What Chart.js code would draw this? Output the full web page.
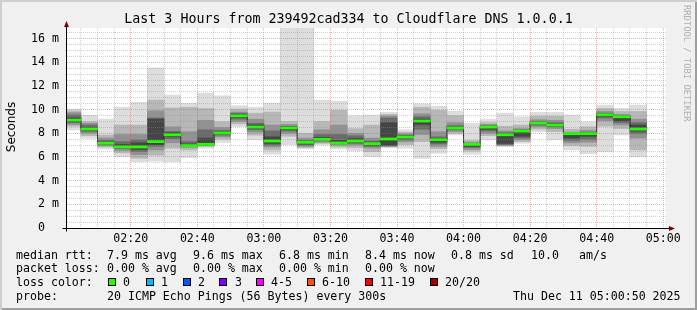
<!DOCTYPE html>
<html>
<head>
<meta charset="utf-8">
<script src="https://cdn.jsdelivr.net/npm/chart.js@4.4.1/dist/chart.umd.min.js"></script>
<style>
  html, body { margin: 0; padding: 0; background: #f0f0f0; }
  #frame {
    position: relative; width: 697px; height: 310px; background: #f0f0f0;
    box-shadow: inset 2px 2px 0 #cfcfcf, inset -2px -2px 0 #9e9e9e;
    font-family: "DejaVu Sans Mono", monospace; color: #000; overflow: hidden;
  }
  #plot { position: absolute; left: 0; top: 0; }
  .t { position: absolute; white-space: pre; font-size: 11.6px; line-height: 12px; }
  .sw { position: absolute; width: 6px; height: 6px; border: 1px solid #000; }
  #title { position: absolute; left: 0; top: 11px; width: 697px; text-align: center; font-size: 13.3px; line-height: 16px; white-space: pre; }
  #ytitle { position: absolute; left: -20px; top: 120px; width: 62px; text-align: center; font-family: "DejaVu Sans", sans-serif; font-size: 12px; line-height: 14px; transform: rotate(-90deg); }
  #rrd { position: absolute; left: 682px; top: 5px; writing-mode: vertical-rl; font-size: 8.8px; line-height: 9px; color: #b0b0b0; }
</style>
</head>
<body>
<div id="frame">
  <canvas id="plot" width="697" height="250"></canvas>
  <div id="title">Last 3 Hours from 239492cad334 to Cloudflare DNS 1.0.0.1</div>
  <div id="ytitle">Seconds</div>
  <div id="rrd">RRDTOOL / TOBI OETIKER</div>
  <div id="legend"></div>
</div>
<script>
// 5-minute slots (start time of each slot)
const slots = ["02:00","02:05","02:10","02:15","02:20","02:25","02:30","02:35","02:40","02:45",
               "02:50","02:55","03:00","03:05","03:10","03:15","03:20","03:25","03:30","03:35",
               "03:40","03:45","03:50","03:55","04:00","04:05","04:10","04:15","04:20","04:25",
               "04:30","04:35","04:40","04:45","04:50"];

// median rtt in ms
const median = [9.12,8.36,7.16,6.85,6.85,7.30,7.88,6.96,7.07,8.03,
                9.48,8.53,7.35,8.45,7.24,7.49,7.18,7.35,7.13,7.52,
                7.69,9.04,7.46,8.45,7.07,8.53,7.88,8.19,8.87,8.70,
                7.97,7.97,9.57,9.40,8.36];

// smoke bands, outermost (ping 1..20) to innermost
const smoke1Lo = [8.28,7.58,6.68,6.03,5.61,5.65,5.61,5.95,6.74,7.24,8.56,7.44,6.23,7.01,6.68,7.01,6.68,6.51,6.03,6.79,6.74,5.89,6.32,7.86,6.23,7.44,6.87,7.16,8.14,7.44,6.60,6.28,6.45,7.86,6.00];
const smoke1Hi = [10.05,9.54,9.20,10.21,10.61,13.53,11.23,10.53,11.40,11.17,10.33,10.21,10.55,17.5,17.5,10.80,10.72,9.48,9.54,9.77,8.30,10.50,10.30,9.88,8.84,9.18,9.71,9.40,9.77,9.77,9.54,8.98,10.38,10.10,10.38];
const smoke2Lo = [8.60,7.80,6.85,6.35,5.90,6.15,6.74,6.60,6.90,7.50,8.80,7.85,6.60,7.75,6.80,7.15,6.85,6.80,6.45,6.85,7.05,7.30,6.70,8.00,6.50,7.80,6.95,7.30,8.35,8.14,6.95,6.90,8.60,8.40,6.60];
const smoke2Hi = [9.90,9.00,7.85,8.70,8.70,10.80,10.15,10.20,10.10,8.98,10.05,9.70,9.80,9.00,8.00,9.00,9.95,8.40,8.70,9.60,8.10,10.20,9.95,9.50,7.40,8.90,8.60,8.70,9.45,9.45,8.35,8.55,10.10,9.85,9.85];
const smoke3Lo = [8.75,8.00,6.95,6.55,6.20,6.60,7.20,6.80,6.95,7.70,9.00,8.10,6.85,8.00,6.90,7.25,7.00,7.00,6.75,6.90,7.30,7.90,6.90,8.15,6.65,8.00,7.00,7.45,8.55,8.40,7.20,7.25,9.05,8.70,7.60];
const smoke3Hi = [9.75,8.85,7.60,7.90,7.90,9.90,8.55,8.14,9.10,8.50,9.80,9.20,8.70,8.75,7.60,8.30,8.70,8.00,7.60,9.45,7.95,9.65,8.14,8.90,7.25,8.75,8.20,8.40,9.15,9.10,8.10,8.25,9.85,9.60,9.20];
const smoke4Lo = [8.90,8.15,7.02,6.70,6.45,6.90,7.55,6.90,7.00,7.85,9.20,8.30,7.00,8.20,7.00,7.35,7.10,7.15,6.90,6.95,7.45,8.35,7.10,8.30,6.80,8.20,7.05,7.60,8.70,8.55,7.40,7.50,9.30,8.90,8.00];
const smoke4Hi = [9.55,8.70,7.40,7.30,7.45,9.30,8.15,7.30,8.30,8.25,9.70,8.85,8.20,8.60,7.40,7.90,7.90,7.80,7.35,9.30,7.85,9.40,7.70,8.65,7.15,8.65,8.05,8.30,9.00,8.90,8.02,8.10,9.70,9.50,8.90];
const smoke5Lo = [9.00,8.25,7.08,6.78,6.65,7.05,7.75,6.93,7.03,7.95,9.35,8.42,7.15,8.30,7.10,7.42,7.13,7.25,7.00,7.00,7.60,8.75,7.25,8.38,6.90,8.35,7.15,7.75,8.80,8.62,7.60,7.75,9.45,9.05,8.20];
const smoke5Hi = [9.30,8.50,7.25,7.05,7.20,9.20,8.05,7.10,7.60,8.12,9.60,8.70,7.70,8.55,7.30,7.65,7.40,7.55,7.25,8.90,7.80,9.20,7.55,8.55,7.10,8.60,7.95,8.25,8.95,8.80,8.00,8.02,9.65,9.45,8.70];

const xTickLabels = ["02:20","02:40","03:00","03:20","03:40","04:00","04:20","04:40","05:00"];
const yTickValues = [0,2,4,6,8,10,12,14,16];
const yTickLabels = ["0  ","2 m","4 m","6 m","8 m","10 m","12 m","14 m","16 m"];

const lossLabels = ["0","1","2","3","4-5","6-10","11-19","20/20"];
const lossColors = ["#26ff00","#00b8ff","#0059ff","#7e00ff","#ff00ff","#ff5500","#ff0000","#a10000"];

const toMin = s => { const p = s.split(":"); return +p[0] * 60 + +p[1]; };
const centers = slots.map(s => toMin(s) + 2.5);
const xMajor = xTickLabels.map(toMin);

const MONO = "DejaVu Sans Mono";
const gridMinor = "rgba(143,143,143,0.42)";
const gridMajor = "rgba(222,80,80,0.45)";

function band(lo, hi, color, order) {
    return {
        type: "bar",
        data: centers.map((x, i) => ({ x: x, y: [lo[i], hi[i]] })),
        backgroundColor: color,
        borderWidth: 0,
        grouped: false,
        barPercentage: 1,
        categoryPercentage: 1,
        order: order,
    };
}

const canvasBg = {
    id: "canvasBg",
    beforeDraw(chart) {
        const a = chart.chartArea, ctx = chart.ctx;
        ctx.save();
        ctx.fillStyle = "#ffffff";
        ctx.fillRect(a.left, a.top, a.right - a.left, a.bottom - a.top);
        ctx.restore();
    },
};

const axesArrows = {
    id: "axesArrows",
    afterDraw(chart) {
        const a = chart.chartArea, ctx = chart.ctx;
        const x0 = Math.round(a.left) - 0.5, y0 = Math.round(a.bottom) + 0.5;
        ctx.save();
        ctx.strokeStyle = "#000";
        ctx.lineWidth = 1;
        ctx.beginPath();
        ctx.moveTo(x0, a.top - 3);
        ctx.lineTo(x0, y0 + 3);
        ctx.moveTo(x0 - 4, y0);
        ctx.lineTo(a.right + 3, y0);
        ctx.stroke();
        ctx.fillStyle = "#7f0000";
        ctx.beginPath();
        ctx.moveTo(x0 - 2.5, a.top - 1);
        ctx.lineTo(x0 + 2.5, a.top - 1);
        ctx.lineTo(x0, a.top - 7);
        ctx.closePath();
        ctx.fill();
        ctx.beginPath();
        ctx.moveTo(a.right + 3, y0 - 2.5);
        ctx.lineTo(a.right + 3, y0 + 2.5);
        ctx.lineTo(a.right + 9, y0);
        ctx.closePath();
        ctx.fill();
        ctx.restore();
    },
};

new Chart(document.getElementById("plot"), {
    type: "bar",
    data: {
        datasets: [
            band(median.map(v => v - 0.09), median.map(v => v + 0.09), "#26ff00", 0),
            {
                type: "line",
                data: centers.map((x, i) => ({ x: x, y: median[i] })),
                stepped: "middle",
                borderColor: "#202020",
                borderWidth: 1,
                pointRadius: 0,
                fill: false,
                order: 1,
            },
            band(smoke5Lo, smoke5Hi, "#454545", 2),
            band(smoke4Lo, smoke4Hi, "#6b6b6b", 3),
            band(smoke3Lo, smoke3Hi, "#919191", 4),
            band(smoke2Lo, smoke2Hi, "#b7b7b7", 5),
            band(smoke1Lo, smoke1Hi, "#dddddd", 6),
        ],
    },
    options: {
        responsive: false,
        animation: false,
        layout: { padding: { left: 0, top: 28, right: 31, bottom: 0 } },
        plugins: { legend: { display: false }, tooltip: { enabled: false }, title: { display: false } },
        scales: {
            x: {
                type: "linear",
                min: 120 + 50 / 60,
                max: 300 + 50 / 60,
                offset: false,
                afterBuildTicks: (s) => {
                    const t = [];
                    for (let v = 125; v <= 300; v += 5) t.push({ value: v });
                    s.ticks = t;
                },
                afterFit: (s) => { s.height = 22; },
                grid: {
                    offset: false,
                    z: 1,
                    drawTicks: false,
                    color: (c) => (c.tick && xMajor.includes(c.tick.value) ? gridMajor : gridMinor),
                },
                border: { display: false, dash: [1, 1] },
                ticks: {
                    autoSkip: false,
                    maxRotation: 0,
                    padding: 4,
                    color: "#000",
                    font: { family: MONO, size: 11.6 },
                    callback: (v) => {
                        const i = xMajor.indexOf(v);
                        return i >= 0 ? xTickLabels[i] : "";
                    },
                },
            },
            y: {
                min: 0,
                max: 16.9,
                afterBuildTicks: (s) => {
                    const t = [];
                    for (let v = 0; v <= 16.5; v += 0.5) t.push({ value: v });
                    s.ticks = t;
                },
                afterFit: (s) => { s.width = 67; },
                grid: {
                    z: 1,
                    drawTicks: false,
                    color: (c) => (c.tick && yTickValues.includes(c.tick.value) ? gridMajor : gridMinor),
                },
                border: { display: false, dash: [1, 1] },
                ticks: {
                    autoSkip: false,
                    padding: 8,
                    color: "#000",
                    font: { family: MONO, size: 11.6 },
                    callback: (v) => {
                        const i = yTickValues.indexOf(v);
                        return i >= 0 ? yTickLabels[i] : "";
                    },
                },
            },
        },
    },
    plugins: [canvasBg, axesArrows],
});

// legend / comment lines under the graph
const legendLines = [
    [249, [[16, "median rtt:"], [107, "7.9 ms avg"], [193, "9.6 ms max"], [279, "6.8 ms min"],
           [365, "8.4 ms now"], [451, "0.8 ms sd"], [531, "10.0"], [579, "am/s"]]],
    [262, [[16, "packet loss:"], [107, "0.00 % avg"], [193, "0.00 % max"], [279, "0.00 % min"], [365, "0.00 % now"]]],
    [276, [[16, "loss color:"]]],
    [290, [[16, "probe:"], [107, "20 ICMP Echo Pings (56 Bytes) every 300s"], [513, "Thu Dec 11 05:00:50 2025"]]],
];
const swatchX = [108, 146, 183, 219, 256, 307, 365, 430];
const swatchTextX = [123, 161, 198, 235, 271, 322, 380, 445];

const legend = document.getElementById("legend");
legendLines.forEach(([top, parts]) => {
    parts.forEach(([x, text]) => {
        const d = document.createElement("div");
        d.className = "t";
        d.style.left = x + "px";
        d.style.top = top + "px";
        d.textContent = text;
        legend.appendChild(d);
    });
});
lossLabels.forEach((lab, i) => {
    const s = document.createElement("div");
    s.className = "sw";
    s.style.left = swatchX[i] + "px";
    s.style.top = "278px";
    s.style.background = lossColors[i];
    legend.appendChild(s);
    const d = document.createElement("div");
    d.className = "t";
    d.style.left = swatchTextX[i] + "px";
    d.style.top = "276px";
    d.textContent = lab;
    legend.appendChild(d);
});
</script>
</body>
</html>
